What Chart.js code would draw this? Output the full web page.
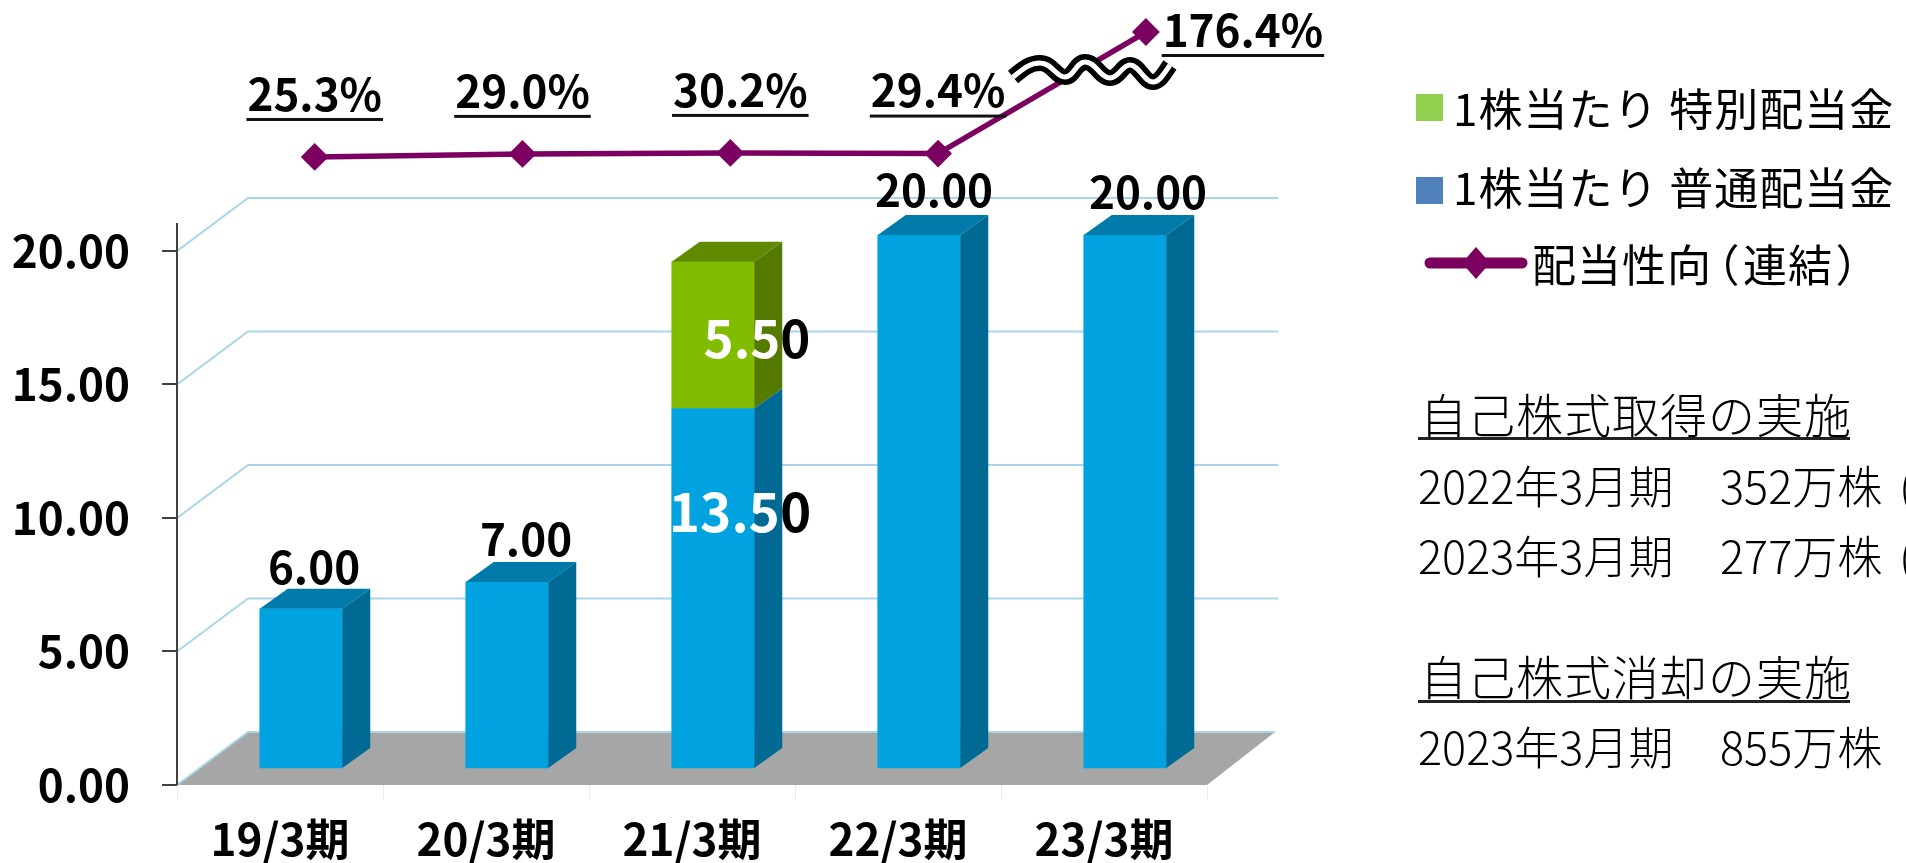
<!DOCTYPE html>
<html lang="ja">
<head>
<meta charset="utf-8">
<title>配当</title>
<script src="https://cdn.jsdelivr.net/npm/chart.js@4/dist/chart.umd.min.js"></script>
<style>
    html, body { margin: 0; background: #fff; overflow: hidden; }
    #wrap { position: relative; width: 1906px; height: 863px; overflow: hidden; }
    #chart { position: absolute; left: 0; top: 0; }
    .t { position: absolute; white-space: pre; color: #000; font-family: "Noto Sans CJK JP", sans-serif; line-height: 1; }
    .lg { font-size: 44px; font-weight: 400; letter-spacing: 1px; }
    .note { font-size: 45px; font-weight: 300; }
    .head { font-size: 47px; font-weight: 300; letter-spacing: 1px; }
    .rule { position: absolute; height: 3px; background: #222; }
    .sw { position: absolute; width: 27px; height: 27px; }
    .paren { font-feature-settings: "palt"; margin: 0 4px; }
</style>
</head>
<body>
<div id="wrap">
    <canvas id="chart" width="1906" height="863"></canvas>

    <div class="sw" style="left:1416px;top:94px;background:#92d050"></div>
    <div class="t lg" style="left:1453px;top:85px">1株当たり 特別配当金</div>
    <div class="sw" style="left:1416px;top:177px;background:#4f81bd"></div>
    <div class="t lg" style="left:1453px;top:164px">1株当たり 普通配当金</div>
    <svg style="position:absolute;left:1420px;top:240px" width="112" height="46">
        <line x1="10" y1="23" x2="102" y2="23" stroke="#7b005f" stroke-width="11" stroke-linecap="round"/>
        <polygon points="56,7 70,23 56,39 42,23" fill="#7b005f"/>
    </svg>
    <div class="t lg" style="left:1532px;top:241px">配当性向<span class="paren">（</span>連結<span class="paren">）</span></div>

    <div class="t head" style="left:1420px;top:389px">自己株式取得の実施</div>
    <div class="rule" style="left:1418px;top:437px;width:432px"></div>
    <div class="t note" style="left:1418px;top:462px">2022年3月期</div>
    <div class="t note" style="left:1720px;top:462px">352万株</div>
    <div class="t note" style="left:1899px;top:462px">(</div>
    <div class="t note" style="left:1418px;top:532px">2023年3月期</div>
    <div class="t note" style="left:1720px;top:532px">277万株</div>
    <div class="t note" style="left:1899px;top:532px">(</div>
    <div class="t head" style="left:1420px;top:651px">自己株式消却の実施</div>
    <div class="rule" style="left:1418px;top:700px;width:432px"></div>
    <div class="t note" style="left:1418px;top:723px">2023年3月期</div>
    <div class="t note" style="left:1720px;top:723px">855万株</div>
</div>

<script>
// data
const categories = ["19/3期", "20/3期", "21/3期", "22/3期", "23/3期"]
const regularDividend = [6, 7, 13.5, 20, 20]
const specialDividend = [null, null, 5.5, null, null]
const payoutRatio = [25.3, 29.0, 30.2, 29.4, 176.4]
const yTicks = [0, 5, 10, 15, 20]

// label nudges from their marks, the source chart had them placed by hand
const regularLabelNudge = [[13, -42], [19, -43], [27, 103], [15, -45], [23, -43]]
const specialLabelNudge = [null, null, [44, 77], null, null]
const ratioLabelNudge = [[0, -63], [0, -63], [10, -63], [0, -63], [97, -2]]

const FONT = '"Noto Sans CJK JP", sans-serif'
const LABEL_WEIGHT = 700
const BAR_SHIFT = { x: 21, y: -16 }    // bars stand inside the floor
const DEPTH = { x: 28, y: -20 }        // bar extrusion
const WALL = { x: 71, y: -53 }         // wall/floor offset from the axis

const COLORS = {
    regular: { front: "#00a3e0", side: "#006a94", top: "#007ba9" },
    special: { front: "#82bc00", side: "#547a00", top: "#5f8a00" },
}

function drawLabel(ctx, text, x, y, size, opts = {}) {
    ctx.save()
    ctx.font = `${LABEL_WEIGHT} ${size}px ${FONT}`
    ctx.textBaseline = "middle"
    ctx.textAlign = "left"
    let w = ctx.measureText(text).width
    let left = x - w / 2
    if (opts.split) {
        // white text that runs off the bar, last digit stays black
        let head = text.slice(0, -1)
        ctx.fillStyle = "#fff"
        ctx.fillText(head, left, y)
        ctx.fillStyle = "#000"
        ctx.fillText(text.slice(-1), left + ctx.measureText(head).width, y)
    } else {
        ctx.fillStyle = "#000"
        ctx.fillText(text, left, y)
    }
    if (opts.underline) {
        ctx.fillStyle = "#111"
        ctx.fillRect(left - 1, y + 24, w + 2, 3)
    }
    ctx.restore()
}

function poly(ctx, pts, fill) {
    ctx.beginPath()
    pts.forEach((p, i) => (i ? ctx.lineTo(p[0], p[1]) : ctx.moveTo(p[0], p[1])))
    ctx.closePath()
    ctx.fillStyle = fill
    ctx.fill()
}

const pseudo3d = {
    id: "pseudo3d",
    beforeDatasetsDraw(chart) {
        let { ctx, chartArea: area, scales: { y } } = chart
        let y0 = y.getPixelForValue(0)
        poly(ctx, [
            [area.left, y0],
            [area.left + WALL.x, y0 + WALL.y],
            [area.right + WALL.x - 3, y0 + WALL.y],
            [area.right, y0],
        ], "#a6a6a6")
        ctx.strokeStyle = "#a9d5e9"
        ctx.lineWidth = 2
        yTicks.forEach((v) => {
            let py = y.getPixelForValue(v)
            ctx.beginPath()
            ctx.moveTo(area.left, py)
            ctx.lineTo(area.left + WALL.x, py + WALL.y)
            if (v > 0) ctx.lineTo(area.right + WALL.x, py + WALL.y)
            else ctx.lineTo(area.right + WALL.x - 3, py + WALL.y)
            ctx.stroke()
        })
        // value axis stops a little above the top tick
        ctx.strokeStyle = "#404040"
        ctx.lineWidth = 2
        ctx.beginPath()
        ctx.moveTo(area.left, y.getPixelForValue(21.05))
        ctx.lineTo(area.left, y0)
        ctx.stroke()
    },
    beforeDatasetDraw(chart, args) {
        if (args.meta.type !== "bar") return
        chart.ctx.save()
        chart.ctx.translate(BAR_SHIFT.x, BAR_SHIFT.y)
    },
    afterDatasetDraw(chart, args) {
        if (args.meta.type !== "bar") return
        let ctx = chart.ctx
        let ds = chart.data.datasets[args.index]
        let c = COLORS[ds.tone]
        args.meta.data.forEach((el, i) => {
            if (ds.data[i] === null) return
            let { x, y, base, width } = el.getProps(["x", "y", "base", "width"], true)
            let l = x - width / 2
            let r = x + width / 2
            // top face only when nothing is stacked on this bar
            if (ds.tone === "special" || specialDividend[i] === null) {
                poly(ctx, [[l, y], [r, y], [r + DEPTH.x, y + DEPTH.y], [l + DEPTH.x, y + DEPTH.y]], c.top)
            }
            poly(ctx, [[r, y], [r + DEPTH.x, y + DEPTH.y], [r + DEPTH.x, base + DEPTH.y], [r, base]], c.side)
        })
        ctx.restore()
    },
    afterDatasetsDraw(chart) {
        let ctx = chart.ctx
        // wavy break over the rising line
        let wave = new Path2D("M1013 77 C1024 68 1030 63 1040 63 C1052 63 1056 77 1065 77 C1074 77 1076 62 1085 62 C1096 62 1100 78 1110 78 C1119 78 1122 65 1130 65 C1139 65 1144 82 1153 82 C1160 82 1165 72 1170 65")
        ctx.save()
        ctx.lineCap = "butt"
        ctx.strokeStyle = "#000"
        ctx.lineWidth = 16
        ctx.stroke(wave)
        ctx.strokeStyle = "#fff"
        ctx.lineWidth = 5
        ctx.stroke(wave)
        ctx.restore()

        chart.getDatasetMeta(0).data.forEach((el, i) => {
            let n = regularLabelNudge[i]
            let split = specialDividend[i] !== null
            drawLabel(ctx, regularDividend[i].toFixed(2), el.x + BAR_SHIFT.x + n[0], el.y + BAR_SHIFT.y + n[1], split ? 53 : 44, { split })
        })
        chart.getDatasetMeta(1).data.forEach((el, i) => {
            let n = specialLabelNudge[i]
            if (!n) return
            drawLabel(ctx, specialDividend[i].toFixed(2), el.x + BAR_SHIFT.x + n[0], el.y + BAR_SHIFT.y + n[1], 51, { split: true })
        })
        chart.getDatasetMeta(2).data.forEach((el, i) => {
            let n = ratioLabelNudge[i]
            drawLabel(ctx, payoutRatio[i].toFixed(1) + "%", el.x + n[0], el.y + n[1], 44, { underline: true })
        })
    },
}

new Chart(document.getElementById("chart"), {
    data: {
        labels: categories,
        datasets: [
            {
                type: "bar",
                label: "1株当たり 普通配当金",
                tone: "regular",
                data: regularDividend,
                backgroundColor: COLORS.regular.front,
                stack: "dividend",
                grouped: false,
                order: 1,
                barThickness: 82.5,
            },
            {
                type: "bar",
                label: "1株当たり 特別配当金",
                tone: "special",
                data: specialDividend,
                backgroundColor: COLORS.special.front,
                stack: "dividend",
                grouped: false,
                order: 1,
                barThickness: 82.5,
            },
            {
                type: "line",
                label: "配当性向（連結）",
                data: payoutRatio.map((v, i) => ({ x: i, y: v })),
                xAxisID: "xLine",
                yAxisID: "yLine",
                borderColor: "#7b005f",
                backgroundColor: "#7b005f",
                borderWidth: 5.5,
                pointStyle: "rectRot",
                pointRadius: 10,
                tension: 0,
                clip: false,
                order: 0,
            },
        ],
    },
    options: {
        responsive: false,
        animation: false,
        layout: { autoPadding: false, padding: { left: 0, top: 0, right: 699, bottom: 0 } },
        plugins: { legend: { display: false }, tooltip: { enabled: false } },
        scales: {
            x: {
                stacked: true,
                offset: true,
                border: { display: false },
                grid: { drawOnChartArea: false, drawTicks: true, tickLength: 15, color: "#ececec", offset: true },
                ticks: { color: "#000", padding: 13, maxRotation: 0, font: { family: FONT, size: 44, weight: LABEL_WEIGHT } },
                afterFit(s) { s.height = 78 },
            },
            y: {
                stacked: true,
                min: 0,
                max: 29.4,
                border: { display: false },
                grid: { drawOnChartArea: false, drawTicks: true, tickLength: 15, color: "#404040", lineWidth: 2 },
                ticks: {
                    color: "#000",
                    padding: 32,
                    font: { family: FONT, size: 44, weight: LABEL_WEIGHT },
                    callback: (v) => Number(v).toFixed(2),
                },
                afterBuildTicks(s) { s.ticks = yTicks.map((v) => ({ value: v })) },
                afterFit(s) { s.width = 177; s.paddingTop = 0; s.paddingBottom = 0 },
            },
            xLine: { type: "linear", display: false, min: -0.6627, max: 4.294 },
            yLine: { type: "linear", display: false, min: -734.1, max: 215.1 },
        },
    },
    plugins: [pseudo3d],
})
</script>
</body>
</html>
